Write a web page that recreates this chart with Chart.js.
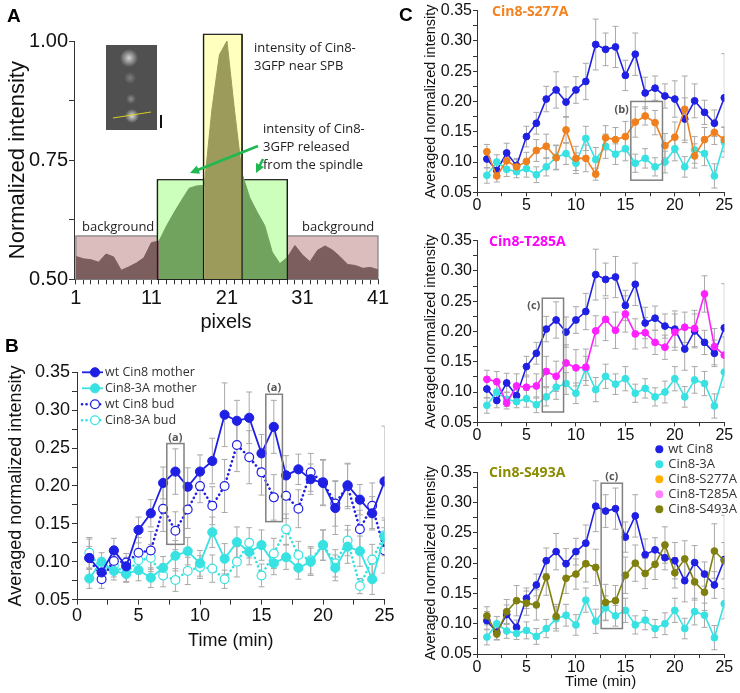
<!DOCTYPE html>
<html>
<head>
<meta charset="utf-8">
<title>Cin8 intensity</title>
<script src="https://cdn.jsdelivr.net/npm/chart.js@4.4.1/dist/chart.umd.min.js"></script>
<style>
  body { margin: 0; width: 740px; height: 693px; position: relative; overflow: hidden; background: #fff; }
  .pane { position: absolute; }
  .note { position: absolute; white-space: nowrap; font-family: "Open Sans", sans-serif; font-size: 13px; line-height: 18.3px; color: #222; }
  .letter { position: absolute; font: bold 19px "Liberation Sans", Arial, sans-serif; color: #000; }
  .ttl { position: absolute; font: bold 14px "Open Sans", sans-serif; line-height: 18px; white-space: nowrap; }
</style>
</head>
<body>
<div class="pane" style="left:0;top:0;width:400px;height:340px"><canvas id="chartA"></canvas></div>
<div class="pane" style="left:0;top:340px;width:400px;height:320px"><canvas id="chartB"></canvas></div>
<div class="pane" style="left:400px;top:0;width:340px;height:225px"><canvas id="chartC1"></canvas></div>
<div class="pane" style="left:400px;top:230px;width:340px;height:220px"><canvas id="chartC2"></canvas></div>
<div class="pane" style="left:400px;top:435px;width:340px;height:258px"><canvas id="chartC3"></canvas></div>

<div class="letter" style="left:7px;top:5px">A</div>
<div class="letter" style="left:5px;top:335px">B</div>
<div class="letter" style="left:399px;top:4px">C</div>

<div class="note" style="left:254px;top:37.5px">intensity of Cin8-<br>3GFP near SPB</div>
<div class="note" style="left:263px;top:118.5px">intensity of Cin8-<br>3GFP released<br>from the spindle</div>
<div class="note" style="left:82px;top:217px">background</div>
<div class="note" style="left:302px;top:217px">background</div>

<div class="ttl" style="left:492px;top:2px;color:#f58220">Cin8-S277A</div>
<div class="ttl" style="left:489px;top:231.5px;color:#ff00ff">Cin8-T285A</div>
<div class="ttl" style="left:489px;top:463px;color:#8c8c00">Cin8-S493A</div>

<script>
// ---- data ----
const minutes = [1, 2, 3, 4, 5, 6, 7, 8, 9, 10, 11, 12, 13, 14, 15, 16, 17, 18, 19, 20, 21, 22, 23, 24, 25];

const wtMother = [0.105, 0.086, 0.115, 0.094, 0.142, 0.164, 0.204, 0.219, 0.199, 0.219, 0.233, 0.294, 0.286, 0.290, 0.243, 0.278, 0.214, 0.222, 0.209, 0.204, 0.171, 0.201, 0.182, 0.164, 0.206];
const wtMotherErr = [0.015, 0.012, 0.016, 0.012, 0.017, 0.018, 0.021, 0.030, 0.025, 0.022, 0.030, 0.042, 0.027, 0.034, 0.025, 0.035, 0.026, 0.020, 0.020, 0.030, 0.035, 0.028, 0.020, 0.022, 0.073];
const a3Mother = [0.078, 0.100, 0.088, 0.084, 0.089, 0.079, 0.092, 0.108, 0.114, 0.098, 0.139, 0.104, 0.126, 0.113, 0.122, 0.098, 0.106, 0.092, 0.100, 0.122, 0.092, 0.120, 0.114, 0.077, 0.133];
const a3MotherErr = [0.013, 0.012, 0.012, 0.010, 0.014, 0.013, 0.015, 0.020, 0.018, 0.017, 0.020, 0.020, 0.020, 0.017, 0.020, 0.015, 0.016, 0.015, 0.018, 0.020, 0.017, 0.022, 0.020, 0.020, 0.025];
const wtBud = [0.105, 0.077, 0.101, 0.099, 0.112, 0.115, 0.170, 0.141, 0.169, 0.200, 0.174, 0.200, 0.254, 0.238, 0.218, 0.185, 0.187, 0.170, 0.218, 0.205, 0.177, 0.200, 0.143, 0.174, 0.115];
const wtBudErr = [0.025, 0.012, 0.015, 0.012, 0.020, 0.025, 0.030, 0.025, 0.025, 0.022, 0.025, 0.035, 0.035, 0.035, 0.030, 0.030, 0.030, 0.025, 0.025, 0.030, 0.030, 0.030, 0.025, 0.030, 0.030];
const a3Bud = [0.112, 0.090, 0.095, 0.085, 0.102, 0.105, 0.082, 0.076, 0.088, 0.093, 0.091, 0.077, 0.100, 0.125, 0.082, 0.111, 0.143, 0.109, 0.102, 0.122, 0.098, 0.128, 0.068, 0.103, 0.135];
const a3BudErr = [0.020, 0.015, 0.015, 0.012, 0.015, 0.018, 0.015, 0.015, 0.018, 0.015, 0.018, 0.012, 0.020, 0.020, 0.015, 0.020, 0.020, 0.018, 0.018, 0.020, 0.018, 0.020, 0.010, 0.020, 0.020];

const s277a = [0.117, 0.077, 0.102, 0.092, 0.101, 0.119, 0.126, 0.107, 0.153, 0.106, 0.106, 0.080, 0.140, 0.137, 0.142, 0.166, 0.176, 0.165, 0.127, 0.141, 0.187, 0.110, 0.137, 0.149, 0.137];
const s277aErr = [0.012, 0.010, 0.015, 0.012, 0.015, 0.018, 0.020, 0.020, 0.022, 0.020, 0.022, 0.010, 0.020, 0.020, 0.025, 0.025, 0.015, 0.020, 0.020, 0.025, 0.055, 0.020, 0.020, 0.020, 0.020];
const t285a = [0.121, 0.117, 0.082, 0.110, 0.108, 0.110, 0.134, 0.126, 0.148, 0.140, 0.141, 0.201, 0.220, 0.202, 0.229, 0.196, 0.198, 0.182, 0.174, 0.199, 0.207, 0.205, 0.262, 0.175, 0.161];
const t285aErr = [0.015, 0.017, 0.010, 0.020, 0.020, 0.020, 0.025, 0.025, 0.030, 0.030, 0.030, 0.025, 0.035, 0.030, 0.030, 0.025, 0.025, 0.020, 0.020, 0.030, 0.025, 0.030, 0.030, 0.030, 0.030];
const s493a = [0.113, 0.083, 0.120, 0.138, 0.134, 0.131, 0.177, 0.112, 0.175, 0.182, 0.199, 0.193, 0.135, 0.138, 0.180, 0.200, 0.183, 0.198, 0.230, 0.184, 0.207, 0.169, 0.152, 0.220, 0.204];
const s493aErr = [0.015, 0.010, 0.020, 0.025, 0.020, 0.025, 0.030, 0.020, 0.025, 0.025, 0.030, 0.030, 0.030, 0.025, 0.030, 0.030, 0.025, 0.025, 0.030, 0.025, 0.030, 0.030, 0.030, 0.045, 0.030];

const profilePixels = [1, 2, 3, 4, 5, 6, 7, 8, 9, 10, 11, 12, 13, 14, 15, 16, 17, 18, 19, 20, 21, 22, 23, 24, 25, 26, 27, 28, 29, 30, 31, 32, 33, 34, 35, 36, 37, 38, 39, 40, 41];
const profileIntensity = [0.548, 0.543, 0.541, 0.536, 0.553, 0.547, 0.519, 0.526, 0.534, 0.545, 0.577, 0.580, 0.612, 0.640, 0.666, 0.691, 0.696, 0.697, 0.855, 0.971, 1.000, 0.855, 0.722, 0.672, 0.641, 0.613, 0.557, 0.533, 0.546, 0.571, 0.551, 0.537, 0.561, 0.570, 0.561, 0.547, 0.531, 0.529, 0.523, 0.525, 0.520];

// [from pixel, to pixel, top intensity]
const bgLeftBox = [1, 11.8, 0.591];
const releasedBox = [11.8, 29, 0.709];
const spbBox = [17.9, 23, 1.014];
const bgRightBox = [29, 41, 0.591];

// [from min, to min, low, high]
const framesB = [[7.3, 8.7, 0.123, 0.256], [15.35, 16.7, 0.153, 0.321]];
const frameS277A = [15.55, 18.75, 0.070, 0.200];
const frameT285A = [6.6, 8.75, 0.067, 0.255];
const frameS493A = [12.55, 14.7, 0.092, 0.332];

const pixelTicks = [1, 11, 21, 31, 41];
const normTicks = [0.50, 0.75, 1.00];
const normMinorTicks = [0.625, 0.875];
const timeTicks = [0, 5, 10, 15, 20, 25];
const timeMinorTicks = [2.5, 7.5, 12.5, 17.5, 22.5];
const intensityTicks = [0.05, 0.10, 0.15, 0.20, 0.25, 0.30, 0.35];
const intensityMinorTicks = [0.075, 0.125, 0.175, 0.225, 0.275, 0.325];

const legendC = ['wt Cin8', 'Cin8-3A', 'Cin8-S277A', 'Cin8-T285A', 'Cin8-S493A'];

// ---- styles ----
const blue = '#2020e4';
const cyan = '#38e2e2';
const orange = '#f0801e';
const magenta = '#ff20ff';
const olive = '#80800f';
const legendColors = [blue, cyan, '#ffb000', '#ff80ff', olive];

Chart.defaults.font.family = '"Liberation Sans", Arial, sans-serif';
Chart.defaults.color = '#111';
Chart.defaults.animation = false;

function axis(o) {
  const all = [...new Set(o.major.concat(o.minor))].sort((a, b) => a - b);
  return {
    type: 'linear', min: o.min, max: o.max,
    afterBuildTicks: s => { s.ticks = all.map(v => ({value: v})); },
    afterFit: s => { if (s.isHorizontal()) s.height = o.box; else s.width = o.box; },
    ticks: {
      autoSkip: false, maxRotation: 0, padding: o.pad, color: '#111', font: {size: o.size},
      callback: v => o.major.some(m => Math.abs(m - v) < 1e-9) ? v.toFixed(o.digits) : ''
    },
    grid: {drawOnChartArea: false, tickLength: o.tick, tickColor: '#333'},
    border: {color: '#333', width: 1},
    title: {display: !!o.title, text: o.title, color: '#111', font: {size: o.titleSize}, padding: o.titlePad}
  };
}

function series(label, values, errors, color, extra) {
  return Object.assign({
    label, errors,
    data: minutes.map((t, i) => ({x: t, y: values[i]})),
    borderColor: color, backgroundColor: color,
    pointBackgroundColor: color, pointBorderColor: color,
    borderWidth: 1.6, pointRadius: 3.4, pointBorderWidth: 1,
    tension: 0, clip: 0, fill: false
  }, extra || {});
}

// error bars under the points
const errorBars = {
  id: 'errorBars',
  beforeDatasetsDraw(chart) {
    const {ctx, chartArea: a, scales: {x, y}} = chart;
    ctx.save();
    ctx.beginPath();
    ctx.rect(a.left, a.top, a.right - a.left, a.bottom - a.top);
    ctx.clip();
    ctx.strokeStyle = '#a9a9a9';
    ctx.lineWidth = 1;
    chart.data.datasets.forEach(ds => {
      if (!ds.errors) return;
      ds.data.forEach((p, i) => {
        const px = x.getPixelForValue(p.x);
        const hi = y.getPixelForValue(p.y + ds.errors[i]);
        const lo = y.getPixelForValue(p.y - ds.errors[i]);
        ctx.beginPath();
        ctx.moveTo(px, hi); ctx.lineTo(px, lo);
        ctx.moveTo(px - 3, hi); ctx.lineTo(px + 3, hi);
        ctx.moveTo(px - 3, lo); ctx.lineTo(px + 3, lo);
        ctx.stroke();
      });
    });
    ctx.restore();
  }
};

// grey frames with (a)/(b)/(c) tags
function frames(items, tag, where) {
  return {
    id: 'frames',
    afterDatasetsDraw(chart) {
      const {ctx, scales: {x, y}} = chart;
      ctx.save();
      ctx.strokeStyle = '#808080';
      ctx.lineWidth = 1.5;
      ctx.fillStyle = '#555';
      ctx.font = 'bold 11px "Open Sans", sans-serif';
      items.forEach(f => {
        const l = x.getPixelForValue(f[0]), r = x.getPixelForValue(f[1]);
        const t = y.getPixelForValue(f[3]), b = y.getPixelForValue(f[2]);
        ctx.strokeRect(l, t, r - l, b - t);
        if (where === 'top') {
          ctx.textAlign = 'center'; ctx.textBaseline = 'bottom';
          ctx.fillText(tag, (l + r) / 2, t - 0.5);
        } else {
          ctx.textAlign = 'right'; ctx.textBaseline = 'middle';
          ctx.fillText(tag, l - 2, t + 8);
        }
      });
      ctx.restore();
    }
  };
}

// legend with line + marker samples
const lineLegend = {
  id: 'lineLegend',
  afterDraw(chart) {
    const {ctx, chartArea} = chart;
    chart.data.datasets.forEach((ds, i) => {
      const x0 = chartArea.left + 5, yy = chartArea.top + i * 16;
      ctx.save();
      ctx.strokeStyle = ds.borderColor;
      ctx.lineWidth = ds.borderWidth;
      ctx.lineCap = ds.borderCapStyle || 'butt';
      ctx.setLineDash(ds.borderDash || []);
      ctx.beginPath(); ctx.moveTo(x0, yy); ctx.lineTo(x0 + 21, yy); ctx.stroke();
      ctx.setLineDash([]);
      ctx.beginPath(); ctx.arc(x0 + 13, yy, ds.pointRadius, 0, Math.PI * 2);
      ctx.fillStyle = ds.pointBackgroundColor; ctx.fill();
      ctx.lineWidth = ds.pointBorderWidth; ctx.strokeStyle = ds.pointBorderColor; ctx.stroke();
      ctx.fillStyle = '#333';
      ctx.font = '12.5px "Open Sans", sans-serif';
      ctx.textBaseline = 'middle';
      ctx.fillText(ds.label, x0 + 23, yy);
      ctx.restore();
    });
  }
};

const dotLegend = {
  id: 'dotLegend',
  afterDraw(chart) {
    const {ctx, chartArea} = chart;
    ctx.save();
    ctx.font = '13px "Open Sans", sans-serif';
    ctx.textBaseline = 'middle';
    legendC.forEach((name, i) => {
      const cx = chartArea.right - 65, cy = chartArea.top - 23 + i * 15;
      ctx.beginPath(); ctx.arc(cx, cy, 4, 0, Math.PI * 2);
      ctx.fillStyle = legendColors[i]; ctx.fill();
      ctx.fillStyle = '#333';
      ctx.fillText(name, cx + 9, cy);
    });
    ctx.restore();
  }
};

// ---- panel A ----
const boxShade = {bg: '#dcbdbd', released: '#ccffbb', spb: '#ffffbe'};
const profileShade = {bg: '#7d5e5e', released: '#71a35f', spb: '#9d9b5b'};
const boxesA = [[bgLeftBox, 'bg'], [bgRightBox, 'bg'], [releasedBox, 'released'], [spbBox, 'spb']];

function regionAt(px) {
  if (px >= spbBox[0] && px <= spbBox[1]) return 'spb';
  if (px >= releasedBox[0] && px <= releasedBox[1]) return 'released';
  return 'bg';
}

const profileBoxes = {
  id: 'profileBoxes',
  beforeDatasetsDraw(chart) {
    const {ctx, scales: {x, y}} = chart;
    const base = y.getPixelForValue(0.5);
    ctx.save();
    boxesA.forEach(([b, key]) => {
      const l = x.getPixelForValue(b[0]), r = x.getPixelForValue(b[1]), t = y.getPixelForValue(b[2]);
      ctx.fillStyle = boxShade[key];
      ctx.fillRect(l, t, r - l, base - t);
      ctx.strokeStyle = key === 'bg' ? '#808080' : '#1a1a1a';
      ctx.lineWidth = 1.2;
      ctx.strokeRect(l, t, r - l, base - t);
    });
    ctx.restore();
  },
  afterDatasetsDraw(chart) {
    const {ctx, scales: {x, y}} = chart;
    const base = y.getPixelForValue(0.5);
    ctx.save();
    ctx.strokeStyle = '#1a1a1a';
    ctx.lineWidth = 1.2;
    [releasedBox, spbBox].forEach(b => {
      const t = y.getPixelForValue(b[2]);
      [b[0], b[1]].forEach(v => {
        const px = x.getPixelForValue(v);
        ctx.beginPath(); ctx.moveTo(px, t); ctx.lineTo(px, base); ctx.stroke();
      });
    });
    ctx.restore();
  },
  afterDraw(chart) {
    const ctx = chart.ctx;
    ctx.save();
    // microscope inset
    ctx.fillStyle = '#505050';
    ctx.fillRect(106, 45, 51, 85);
    const glow = (cx, cy, r, a) => {
      const g = ctx.createRadialGradient(cx, cy, 0, cx, cy, r);
      g.addColorStop(0, 'rgba(235,235,235,' + a + ')');
      g.addColorStop(1, 'rgba(235,235,235,0)');
      ctx.fillStyle = g;
      ctx.fillRect(cx - r, cy - r, 2 * r, 2 * r);
    };
    glow(129, 58, 9, 0.85);
    glow(130, 78, 6, 0.3);
    glow(131, 99, 5, 0.4);
    glow(132, 116, 7, 0.9);
    ctx.strokeStyle = '#d8d020';
    ctx.lineWidth = 1;
    ctx.beginPath(); ctx.moveTo(113, 118); ctx.lineTo(151, 112); ctx.stroke();
    ctx.fillStyle = '#111';
    ctx.fillRect(160, 115, 2, 13);
    // green arrows
    const arrow = (x0, y0, x1, y1) => {
      const ang = Math.atan2(y1 - y0, x1 - x0);
      ctx.strokeStyle = '#20b850'; ctx.fillStyle = '#20b850'; ctx.lineWidth = 2.6;
      ctx.beginPath(); ctx.moveTo(x0, y0);
      ctx.lineTo(x1 - 7 * Math.cos(ang), y1 - 7 * Math.sin(ang)); ctx.stroke();
      ctx.beginPath(); ctx.moveTo(x1, y1);
      ctx.lineTo(x1 - 9 * Math.cos(ang) + 4.5 * Math.sin(ang), y1 - 9 * Math.sin(ang) - 4.5 * Math.cos(ang));
      ctx.lineTo(x1 - 9 * Math.cos(ang) - 4.5 * Math.sin(ang), y1 - 9 * Math.sin(ang) + 4.5 * Math.cos(ang));
      ctx.closePath(); ctx.fill();
    };
    arrow(258, 146, 190, 173);
    arrow(263, 159, 256, 173);
    ctx.restore();
  }
};

new Chart(document.getElementById('chartA'), {
  type: 'line',
  data: {
    datasets: [{
      data: profilePixels.map((p, i) => ({x: p, y: profileIntensity[i]})),
      fill: 'origin', tension: 0, pointRadius: 0, borderWidth: 1, clip: 0,
      backgroundColor: profileShade.bg, borderColor: profileShade.bg,
      segment: {
        backgroundColor: c => profileShade[regionAt((c.p0.parsed.x + c.p1.parsed.x) / 2)],
        borderColor: c => profileShade[regionAt((c.p0.parsed.x + c.p1.parsed.x) / 2)]
      }
    }]
  },
  options: {
    responsive: true, maintainAspectRatio: false,
    layout: {padding: {top: 41, right: 22, left: 0, bottom: 0}},
    plugins: {legend: {display: false}, tooltip: {enabled: false}},
    scales: {
      x: axis({min: 0.75, max: 41, major: pixelTicks, minor: profilePixels, digits: 0, size: 20, title: 'pixels', titleSize: 20, titlePad: {top: 0, bottom: 6}, box: 60.7, tick: 5, pad: 2}),
      y: axis({min: 0.5, max: 1.0, major: normTicks, minor: normMinorTicks, digits: 2, size: 20, title: 'Normalized intensity', titleSize: 22, titlePad: {top: 5, bottom: 0}, box: 74, tick: 5, pad: 1})
    }
  },
  plugins: [profileBoxes]
});

// ---- panel B ----
new Chart(document.getElementById('chartB'), {
  type: 'line',
  data: {
    datasets: [
      series('wt Cin8 mother', wtMother, wtMotherErr, blue, {pointRadius: 4.6, borderWidth: 1.8, order: 1}),
      series('Cin8-3A mother', a3Mother, a3MotherErr, cyan, {pointRadius: 4.6, borderWidth: 1.8, order: 2}),
      series('wt Cin8 bud', wtBud, wtBudErr, blue, {pointRadius: 4.4, pointBackgroundColor: '#fff', pointBorderWidth: 1.2, borderWidth: 2.6, borderDash: [0.1, 4.4], borderCapStyle: 'round', order: 3}),
      series('Cin8-3A bud', a3Bud, a3BudErr, cyan, {pointRadius: 4.4, pointBackgroundColor: '#fff', pointBorderWidth: 1.2, borderWidth: 2.6, borderDash: [0.1, 4.4], borderCapStyle: 'round', order: 4})
    ]
  },
  options: {
    responsive: true, maintainAspectRatio: false,
    layout: {padding: {top: 32.3, right: 15.5, left: 0, bottom: 0}},
    plugins: {legend: {display: false}, tooltip: {enabled: false}},
    scales: {
      x: axis({min: 0, max: 25, major: timeTicks, minor: timeMinorTicks, digits: 0, size: 18, title: 'Time (min)', titleSize: 18, titlePad: {top: 0, bottom: 8.5}, box: 60.3, tick: 5, pad: 1}),
      y: axis({min: 0.05, max: 0.35, major: intensityTicks, minor: intensityMinorTicks, digits: 2, size: 18, title: 'Averaged normalized intensity', titleSize: 18, titlePad: {top: 5.2, bottom: 0}, box: 77, tick: 5, pad: 2})
    }
  },
  plugins: [errorBars, frames(framesB, '(a)', 'top'), lineLegend]
});

// ---- panel C ----
function mutantChart(id, label, values, errors, color, frame, tagWhere, tag, padTop, xBox, withTitle, extraPlugins) {
  return new Chart(document.getElementById(id), {
    type: 'line',
    data: {
      datasets: [
        series(label, values, errors, color, {order: 1}),
        series('Cin8-3A', a3Mother, a3MotherErr, cyan, {order: 2}),
        series('wt Cin8', wtMother, wtMotherErr, blue, {order: 3})
      ]
    },
    options: {
      responsive: true, maintainAspectRatio: false,
      layout: {padding: {top: padTop, right: 15.7, left: 0, bottom: 0}},
      plugins: {legend: {display: false}, tooltip: {enabled: false}},
      scales: {
        x: axis({min: 0, max: 25, major: timeTicks, minor: timeMinorTicks, digits: 0, size: 16, title: withTitle ? 'Time (min)' : '', titleSize: 15, titlePad: {top: 0, bottom: 2.5}, box: xBox, tick: 4, pad: 0}),
        y: axis({min: 0.05, max: 0.35, major: intensityTicks, minor: intensityMinorTicks, digits: 2, size: 16, title: 'Averaged normalized intensity', titleSize: 14.5, titlePad: {top: 22.3, bottom: 0}, box: 77, tick: 4, pad: 1})
      }
    },
    plugins: [errorBars, frames([frame], tag, tagWhere)].concat(extraPlugins || [])
  });
}

mutantChart('chartC1', 'Cin8-S277A', s277a, s277aErr, orange, frameS277A, 'left', '(b)', 10, 32.7, false);
mutantChart('chartC2', 'Cin8-T285A', t285a, t285aErr, magenta, frameT285A, 'left', '(c)', 10.7, 27.7, false);
mutantChart('chartC3', 'Cin8-S493A', s493a, s493aErr, olive, frameS493A, 'top', '(c)', 37.3, 39, true, [dotLegend]);
</script>
</body>
</html>
